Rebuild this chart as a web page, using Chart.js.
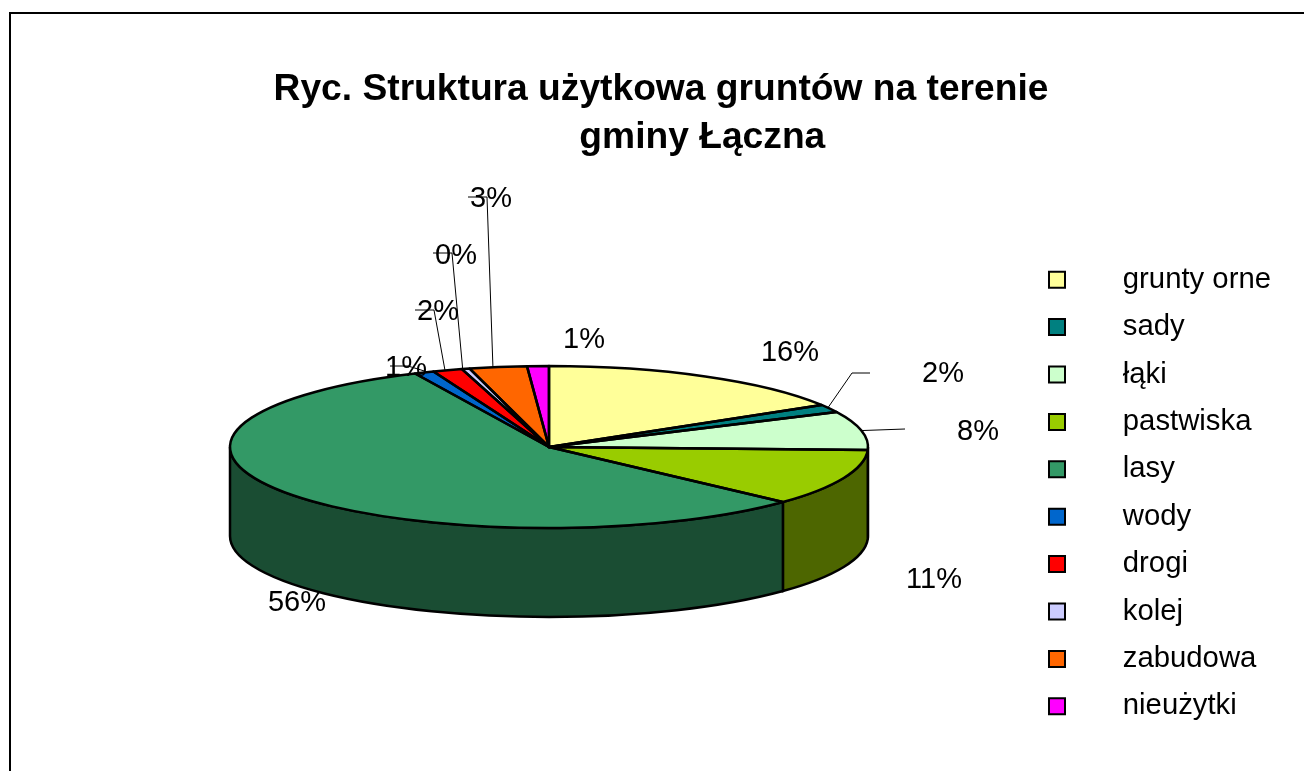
<!DOCTYPE html>
<html lang="pl">
<head>
<meta charset="utf-8">
<title>Struktura użytkowa gruntów</title>
<script src="https://cdn.jsdelivr.net/npm/chart.js@4"></script>
<style>
  html, body { margin: 0; padding: 0; background: #fff; overflow: hidden; }
  canvas { display: block; }
</style>
</head>
<body>
<canvas id="grunty" width="1304" height="771"></canvas>
<script>
const categories = ["grunty orne", "sady", "łąki", "pastwiska", "lasy", "wody", "drogi", "kolej", "zabudowa", "nieużytki"];
// shares
const shares = [16.3, 1.6, 7.7, 11.3, 56.2, 1.0, 1.5, 0.4, 2.9, 1.1];
const percentLabels = ["16%", "2%", "8%", "11%", "56%", "1%", "2%", "0%", "3%", "1%"];
const sliceColors = ["#FFFF99", "#008080", "#CCFFCC", "#99CC00", "#339966", "#0066CC", "#FF0000", "#CCCCFF", "#FF6600", "#FF00FF"];
const titleLines = ["Ryc. Struktura użytkowa gruntów na terenie", "\u00a0\u00a0\u00a0\u00a0\u00a0\u00a0\u00a0\u00a0gminy Łączna"];

// layout of the tilted pie and its labels
const pie = { x: 549, y: 447, rx: 319, ry: 81, depth: 89 };
const legendShift = { x: -10, y: 107.5 };
const labelPos = [[790, 353], [943, 374], [978, 432], [934, 580], [297, 603], [406, 368], [438, 312], [456, 256], [491, 199], [584, 340]];
// at: where along the slice rim the line starts
const leaders = {
  1: { at: 0.4, points: [[852, 373], [870, 373]] },
  2: { at: 0.5, points: [[905, 429]] },
  5: { at: 0.7, points: [[408, 366], [390, 366]] },
  6: { at: 0.41, points: [[434, 310], [415, 310]] },
  7: { at: 0.1, points: [[452, 253], [433, 253]] },
  8: { at: 0.41, points: [[487, 197], [468, 197]] },
};

function darken(hex) {
  const n = parseInt(hex.slice(1), 16);
  const c = [n >> 16, (n >> 8) & 255, n & 255].map((v) => Math.round(v * 0.5));
  return `rgb(${c[0]},${c[1]},${c[2]})`;
}

const tiltedPie = {
  id: "tiltedPie",
  afterLayout(chart) {
    const legend = chart.legend;
    legend.left += legendShift.x;
    legend.right += legendShift.x;
    legend.top += legendShift.y;
    legend.bottom += legendShift.y;
  },
  beforeDraw(chart) {
    const ctx = chart.ctx;
    ctx.save();
    ctx.fillStyle = "#fff";
    ctx.fillRect(0, 0, chart.width, chart.height);
    ctx.strokeStyle = "#000";
    ctx.lineWidth = 2;
    ctx.strokeRect(10, 13, chart.width + 50, chart.height + 50);
    ctx.restore();
  },
  beforeDatasetsDraw(chart) {
    const ctx = chart.ctx;
    const arcs = chart.getDatasetMeta(0).data;

    // side wall, only the front half of the pie shows
    arcs.forEach((arc, i) => {
      const a = Math.max(arc.startAngle, 0);
      const b = Math.min(arc.endAngle, Math.PI);
      if (b <= a) return;
      ctx.save();
      ctx.beginPath();
      ctx.ellipse(pie.x, pie.y, pie.rx, pie.ry, 0, a, b);
      ctx.ellipse(pie.x, pie.y + pie.depth, pie.rx, pie.ry, 0, b, a, true);
      ctx.closePath();
      ctx.fillStyle = darken(sliceColors[i]);
      ctx.fill();
      ctx.strokeStyle = "#000";
      ctx.lineWidth = 2.5;
      ctx.stroke();
      ctx.restore();
    });

    // the library draws the flat arcs, squashed into the ellipse
    const first = arcs[0];
    ctx.save();
    ctx.translate(pie.x, pie.y);
    ctx.scale(1, pie.ry / pie.rx);
    ctx.translate(-first.x, -first.y);
  },
  afterDatasetsDraw(chart) {
    const ctx = chart.ctx;
    ctx.restore();
    const arcs = chart.getDatasetMeta(0).data;

    // slice outlines keep an even width, so stroke them outside the squash
    arcs.forEach((arc) => {
      ctx.save();
      ctx.beginPath();
      ctx.moveTo(pie.x, pie.y);
      ctx.ellipse(pie.x, pie.y, pie.rx, pie.ry, 0, arc.startAngle, arc.endAngle);
      ctx.closePath();
      ctx.strokeStyle = "#000";
      ctx.lineWidth = 2.5;
      ctx.lineJoin = "round";
      ctx.stroke();
      ctx.restore();
    });

    // percent labels and their leader lines
    ctx.save();
    ctx.fillStyle = "#000";
    ctx.font = "29px 'Liberation Sans'";
    ctx.textAlign = "center";
    ctx.textBaseline = "middle";
    arcs.forEach((arc, i) => {
      const leader = leaders[i];
      if (leader) {
        const angle = arc.startAngle + (arc.endAngle - arc.startAngle) * leader.at;
        ctx.beginPath();
        ctx.moveTo(pie.x + pie.rx * Math.cos(angle), pie.y + pie.ry * Math.sin(angle));
        leader.points.forEach((p) => ctx.lineTo(p[0], p[1]));
        ctx.strokeStyle = "#000";
        ctx.lineWidth = 1;
        ctx.stroke();
      }
      ctx.fillText(percentLabels[i], labelPos[i][0], labelPos[i][1]);
    });
    ctx.restore();
  },
};

new Chart(document.getElementById("grunty"), {
  type: "pie",
  data: {
    labels: categories,
    datasets: [
      {
        data: shares,
        backgroundColor: sliceColors,
        borderWidth: 0,
        radius: pie.rx,
      },
    ],
  },
  options: {
    responsive: false,
    animation: false,
    events: [],
    layout: { padding: { left: 31, right: 13 } },
    plugins: {
      title: {
        display: true,
        text: titleLines,
        color: "#000",
        font: { family: "'Liberation Sans'", size: 37.2, weight: "bold", lineHeight: 1.29 },
        padding: { top: 66, bottom: 51 },
      },
      legend: {
        position: "right",
        labels: {
          color: "#000",
          font: { family: "'Liberation Sans'", size: 29.3 },
          boxWidth: 16,
          boxHeight: 16,
          padding: 18.1,
          generateLabels(chart) {
            return categories.map((name, i) => ({
              text: "\u00a0\u00a0\u00a0\u00a0\u00a0\u200a" + name,
              fillStyle: sliceColors[i],
              strokeStyle: "#000",
              lineWidth: 2,
              hidden: false,
              index: i,
            }));
          },
        },
      },
      tooltip: { enabled: false },
    },
  },
  plugins: [tiltedPie],
});
</script>
</body>
</html>
